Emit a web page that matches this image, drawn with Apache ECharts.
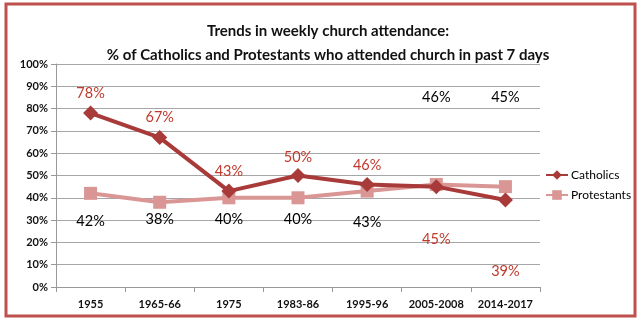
<!DOCTYPE html>
<html><head><meta charset="utf-8">
<script src="https://cdn.jsdelivr.net/npm/echarts@6/dist/echarts.min.js"></script>
<style>html,body{margin:0;padding:0;background:#fff}#c{width:640px;height:322px}</style>
</head><body><div id="c"></div>
<script>
const categories = ['1955','1965-66','1975','1983-86','1995-96','2005-2008','2014-2017'];
const catholics = [78, 67, 43, 50, 46, 45, 39];
const protestants = [42, 38, 40, 40, 43, 46, 45];
const yTicks = [0,10,20,30,40,50,60,70,80,90,100];

// label placement (style, not data): offsetY
const catLabelOffsets = [-20,-20,-20,-18,-19,53,71];
const proLabelOffsets = [28,17,22,22,31,-87,-89];

const FONT = 'Lato, "Open Sans", sans-serif';
const chart = echarts.init(document.getElementById('c'));
function mk(vals, offs, color){
  return vals.map((v,i)=>({value:v,label:{offset:[0,offs[i]],color:color}}));
}
chart.setOption({
  animation:false,
  backgroundColor:'#fff',
  title:{
    text:'Trends in weekly church attendance:\n% of Catholics and Protestants who attended church in past 7 days',
    left:323, top:14, textAlign:'center',
    textStyle:{fontFamily:FONT,fontWeight:'bold',fontSize:15,color:'#111',lineHeight:24}
  },
  graphic:[{type:'rect',shape:{x:6,y:4,width:629,height:312},style:{fill:'none',stroke:'#c0504d',lineWidth:3},z:100}],
  grid:{left:56,right:100,top:64,bottom:35},
  legend:{
    orient:'vertical', left:540, top:164, itemGap:8, itemWidth:22, itemHeight:12,
    textStyle:{fontFamily:FONT,fontSize:12,color:'#000',padding:[0,0,0,-2]},
    data:['Catholics','Protestants']
  },
  xAxis:{
    type:'category', data:categories, boundaryGap:true,
    axisLine:{lineStyle:{color:'#999'}},
    axisTick:{show:true,length:5,lineStyle:{color:'#999'}},
    axisLabel:{fontFamily:FONT,fontWeight:'bold',fontSize:11,color:'#111',margin:12,interval:0}
  },
  yAxis:{
    type:'value', min:0, max:100, interval:10,
    axisLine:{show:true,lineStyle:{color:'#999'}},
    axisTick:{show:true,length:5,lineStyle:{color:'#999'}},
    splitLine:{lineStyle:{color:'#a6a6a6'}},
    axisLabel:{fontFamily:FONT,fontWeight:'bold',fontSize:11,color:'#111',formatter:v=>v+'%'}
  },
  series:[
    {name:'Protestants',type:'line',data:mk(protestants,proLabelOffsets,'#000'),
     symbol:'rect',symbolSize:13,lineStyle:{width:4,color:'#d99694'},itemStyle:{color:'#d99694'},
     label:{show:true,position:'inside',fontFamily:FONT,fontSize:14.5,formatter:p=>p.value+'%'},z:2},
    {name:'Catholics',type:'line',data:mk(catholics,catLabelOffsets,'#c0392b'),
     symbol:'diamond',symbolSize:15,lineStyle:{width:4,color:'#a83a3a'},itemStyle:{color:'#a83a3a'},
     label:{show:true,position:'inside',fontFamily:FONT,fontSize:14.5,formatter:p=>p.value+'%'},z:3}
  ]
});
</script></body></html>
